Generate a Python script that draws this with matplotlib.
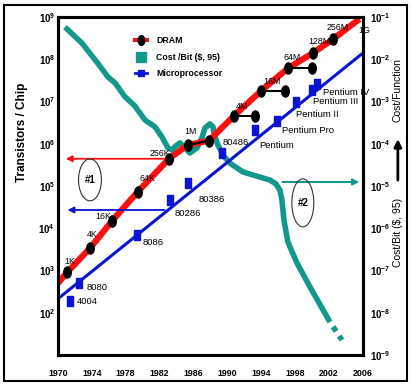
import numpy as np
import matplotlib.pyplot as plt
from matplotlib.path import Path
from matplotlib.transforms import Affine2D
from matplotlib.lines import Line2D
from matplotlib.patches import Ellipse, Rectangle

plt.rcParams['font.family'] = ['Liberation Sans', 'DejaVu Sans']
plt.rcParams['mathtext.fontset'] = 'custom'
plt.rcParams['mathtext.rm'] = 'Liberation Sans'
plt.rcParams['mathtext.bf'] = 'Liberation Sans:bold'

# DRAM generations (first year of the bar, second year, transistors/chip)
dram_names = ["1K", "4K", "16K", "64K", "256K", "1M", "4M", "16M", "64M", "128M", "256M"]
dram_year = [1971.1, 1973.8, 1976.4, 1979.4, 1983.1, 1985.3, 1990.8, 1994.0, 1997.2, 2000.1, 2002.5]
dram_year2 = [None, None, None, None, None, 1987.8, 1993.25, 1996.8, 2000.0, None, None]
dram_bits = [9.1e2, 3.4e3, 1.5e4, 7.2e4, 4.4e5, 9.3e5, 4.6e6, 1.8e7, 6.2e7, 1.4e8, 3.0e8]
dram_bits2 = [None, None, None, None, None, 1.17e6, 4.6e6, 1.8e7, 6.2e7, None, None]
# red trend line follows the DRAM points
red_year = [1970.0, 1971.1, 1973.8, 1976.4, 1979.4, 1983.1, 1985.3, 1987.8, 1990.8,
            1994.0, 1997.2, 2000.1, 2002.5, 2005.6]
red_val = [5.0e2, 9.1e2, 3.4e3, 1.5e4, 7.2e4, 4.4e5, 9.3e5, 1.17e6, 4.6e6,
           1.8e7, 6.2e7, 1.4e8, 3.0e8, 9.0e8]

# microprocessors
cpu_names = ["4004", "8080", "8086", "80286", "80386", "80486", "Pentium",
             "Pentium Pro", "Pentium II", "Pentium III", "Pentium IV"]
cpu_year = [1971.4, 1972.5, 1979.3, 1983.2, 1985.3, 1989.4, 1993.25, 1995.85, 1998.1, 2000.0, 2000.6]
cpu_trans = [1.9e2, 5.0e2, 6.9e3, 4.7e4, 1.2e5, 6.0e5, 2.1e6, 3.5e6, 9.8e6, 1.9e7, 2.6e7]
blue_year = [1970.2, 2006.0]
blue_val = [2.3e2, 1.4e8]

# cost per bit ($, 95)
cost_year = [1970.83, 1972.83, 1974.60, 1975.90, 1976.73, 1977.91, 1979.09, 1980.27, 1981.45,
             1982.28, 1982.98, 1983.46, 1983.93, 1984.40, 1984.99, 1985.58, 1986.41, 1987.00,
             1987.35, 1987.94, 1988.30, 1988.53, 1988.89, 1989.48, 1990.30, 1991.84, 1993.84,
             1995.02, 1995.73, 1996.20, 1996.44, 1996.68, 1997.15, 1998.21, 1999.75, 2002.11]
cost_log = [-1.24, -1.62, -2.07, -2.42, -2.56, -2.89, -3.11, -3.44, -3.60,
            -3.84, -4.10, -4.15, -4.05, -3.98, -4.10, -4.22, -4.10, -3.86,
            -3.63, -3.53, -3.60, -3.84, -4.03, -4.27, -4.46, -4.67, -4.79,
            -4.86, -4.95, -5.10, -5.33, -5.81, -6.33, -6.82, -7.39, -8.22]
cost_val = [10.0 ** v for v in cost_log]
tail_year = [2002.11, 2003.52]
tail_val = [6.0e-9, 2.26e-9]

# label positions
dram_lab_year = [1971.4, 1974.1, 1975.4, 1980.5, 1982.0, 1985.7, 1991.7, 1995.3, 1997.7, 2000.8, 2003.05, 2006.1]
dram_lab_val = [1.6e3, 7.2e3, 1.9e4, 1.5e5, 6.0e5, 1.9e6, 7.4e6, 2.9e7, 1.07e8, 2.6e8, 5.5e8, 4.9e8]
dram_lab_text = dram_names + ["1G"]
cpu_lab_year = [1972.2, 1973.4, 1980.0, 1983.8, 1986.6, 1989.4, 1993.8, 1996.4, 1998.1, 2000.1, 2001.3]
cpu_lab_val = [1.8e2, 3.9e2, 4.5e3, 2.2e4, 4.7e4, 1.05e6, 9.3e5, 2.0e6, 5.0e6, 9.8e6, 1.66e7]

left_ticks = [1e2, 1e3, 1e4, 1e5, 1e6, 1e7, 1e8, 1e9]
left_exp = [2, 3, 4, 5, 6, 7, 8, 9]
right_ticks = [1e-9, 1e-8, 1e-7, 1e-6, 1e-5, 1e-4, 1e-3, 1e-2, 1e-1]
right_exp = [-9, -8, -7, -6, -5, -4, -3, -2, -1]
years = list(range(1970, 2007, 4))

red = '#ff1010'
blue = '#0a14d2'
teal = '#12998c'

ell = Path.unit_circle().transformed(Affine2D().scale(0.68, 1.0))
rect = Path.unit_rectangle().transformed(Affine2D().translate(-0.5, -0.5).scale(0.75, 1.0))

fig = plt.figure(figsize=(4.11, 3.85), dpi=100)
ax = fig.add_axes([0.141, 0.078, 0.742, 0.878])
ax2 = ax.twinx()
ax.set_zorder(ax2.get_zorder() + 1)
ax.patch.set_visible(False)

ax.set_yscale('log')
ax2.set_yscale('log')
ax.set_xlim(1970, 2006)
ax.set_ylim(1e1, 1e9)
ax2.set_ylim(1e-9, 1e-1)

# cost / bit
ax2.plot(cost_year, cost_val, color=teal, lw=4, solid_capstyle='butt', zorder=2)
ax2.plot(tail_year, tail_val, color=teal, lw=4, linestyle=(1, (1, 1)), zorder=2)
ax2.annotate('', xy=(2005.9, 1.24e-5), xytext=(1996.2, 1.24e-5),
             arrowprops=dict(arrowstyle='-|>', color=teal, lw=1.5, mutation_scale=9))

# trend lines
ax.plot(red_year, red_val, color=red, lw=4.5, zorder=2, solid_capstyle='butt')
ax.plot(blue_year, blue_val, color=blue, lw=2.2, zorder=2)

# DRAM dots and bars
for i in range(len(dram_year)):
    if dram_year2[i] is not None:
        ax.plot([dram_year[i], dram_year2[i]], [dram_bits[i], dram_bits2[i]], color='k', lw=1.5, zorder=4)
        ax.plot(dram_year2[i], dram_bits2[i], marker=ell, ms=8, color='k', zorder=5)
ax.plot(dram_year, dram_bits, ls='none', marker=ell, ms=8, color='k', zorder=5)

ax.plot(cpu_year, cpu_trans, ls='none', marker=rect, ms=6.5, color=blue, zorder=5)

for x, y, t in zip(dram_lab_year, dram_lab_val, dram_lab_text):
    ax.text(x, y, t, ha='center', va='center', fontsize=6.3, zorder=3, clip_on=False)
for x, y, t in zip(cpu_lab_year, cpu_lab_val, cpu_names):
    ax.text(x, y, t, ha='left', va='center', fontsize=6.8, zorder=3, clip_on=False)

# arrows to the left axis
ax.annotate('', xy=(1970.6, 4.4e5), xytext=(1983.1, 4.4e5),
            arrowprops=dict(arrowstyle='-|>', color=red, lw=1.3, mutation_scale=9))
ax.annotate('', xy=(1970.8, 2.7e4), xytext=(1982.9, 2.7e4),
            arrowprops=dict(arrowstyle='-|>', color=blue, lw=1.3, mutation_scale=9))

ax.add_patch(Ellipse((0.105, 0.518), 0.075, 0.124, transform=ax.transAxes,
                     fill=False, ec='#333333', lw=0.8, zorder=3))
ax.text(0.105, 0.518, '#1', transform=ax.transAxes, ha='center', va='center',
        fontsize=7, fontweight='bold')
ax.add_patch(Ellipse((0.803, 0.450), 0.072, 0.142, transform=ax.transAxes,
                     fill=False, ec='#333333', lw=0.8, zorder=3))
ax.text(0.803, 0.450, '#2', transform=ax.transAxes, ha='center', va='center',
        fontsize=7, fontweight='bold')

# legend
h1 = Line2D([], [], color=red, lw=3, marker=ell, ms=7, mfc='k', mec='k')
h2 = Line2D([], [], ls='none', marker='s', ms=7, color=teal)
h3 = Line2D([], [], color=blue, lw=2, marker='s', ms=5)
ax.legend([h1, h2, h3], ['DRAM', 'Cost /Bit ($, 95)', 'Microprocessor'],
          loc='upper left', bbox_to_anchor=(0.228, 0.966), frameon=False,
          handlelength=1.3, labelspacing=0.85, handletextpad=1.1,
          prop={'size': 6.3, 'weight': 'bold'})

# ticks
ax.set_yticks(left_ticks)
ax.set_yticklabels([r'$\mathbf{10^{%d}}$' % e for e in left_exp])
ax.yaxis.set_minor_locator(plt.NullLocator())
ax2.set_yticks(right_ticks)
ax2.set_yticklabels([r'$\mathbf{10^{%d}}$' % e for e in right_exp])
ax2.yaxis.set_minor_locator(plt.NullLocator())
ax.set_xticks(years)
ax.set_xticklabels([str(y) for y in years], fontweight='bold')
ax.tick_params(axis='y', length=0, pad=2, labelsize=7)
ax.tick_params(axis='x', length=0, pad=10, labelsize=6.4)
ax2.tick_params(axis='y', length=0, pad=5, labelsize=7)

for a in (ax, ax2):
    for s in a.spines.values():
        s.set_linewidth(2.2)

fig.text(0.053, 0.657, 'Transistors / Chip', rotation=90, ha='center', va='center',
         fontsize=8.5, fontweight='bold')
fig.text(0.968, 0.395, 'Cost/Bit ($, 95)', rotation=90, ha='center', va='center', fontsize=7.5)
fig.text(0.968, 0.766, 'Cost/Function', rotation=90, ha='center', va='center', fontsize=7.5)
ax.annotate('', xy=(0.968, 0.646), xytext=(0.968, 0.525), xycoords='figure fraction',
            textcoords='figure fraction',
            arrowprops=dict(arrowstyle='-|>', color='k', lw=2, mutation_scale=11))

fig.patches.append(Rectangle((0.0097, 0.0104), 0.9805, 0.977, transform=fig.transFigure,
                             fill=False, ec='k', lw=1.5))

fig.savefig('out.png', dpi=100)
